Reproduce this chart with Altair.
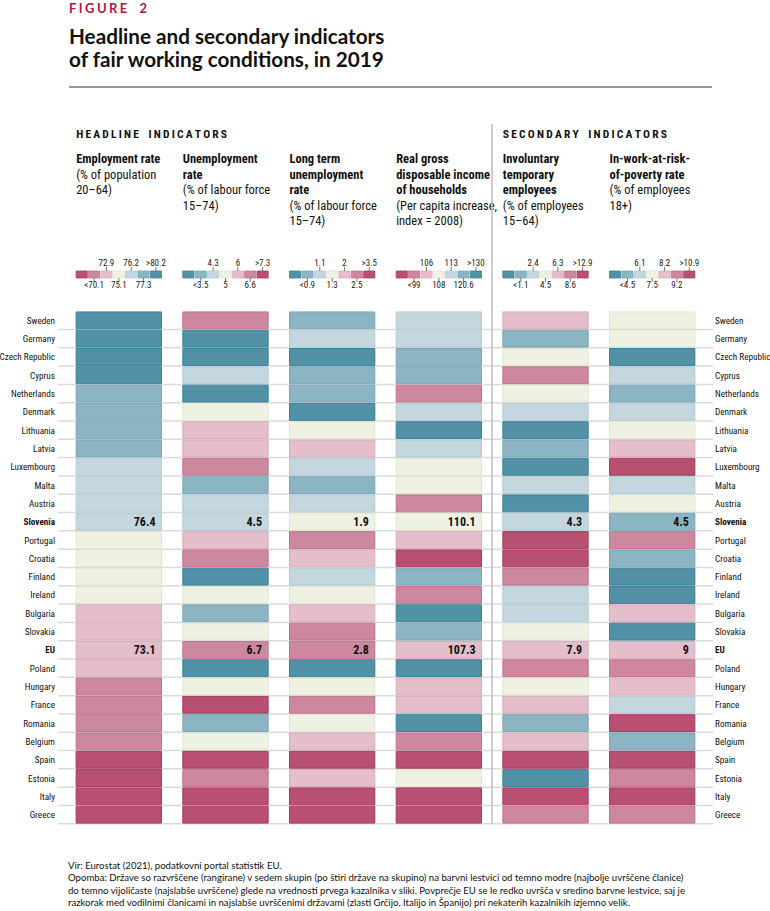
import altair as alt
import pandas as pd

# ---------------- data ----------------
countries = ["Sweden", "Germany", "Czech Republic", "Cyprus", "Netherlands", "Denmark",
             "Lithuania", "Latvia", "Luxembourg", "Malta", "Austria", "Slovenia",
             "Portugal", "Croatia", "Finland", "Ireland", "Bulgaria", "Slovakia", "EU",
             "Poland", "Hungary", "France", "Romania", "Belgium", "Spain", "Estonia",
             "Italy", "Greece"]
bold_rows = ["Slovenia", "EU"]

indicators = ["emp", "unemp", "ltu", "gdhi", "invtemp", "iwp"]
higher_better = ["emp", "gdhi"]

# class 1 = dark blue (best) ... 7 = dark magenta (worst)
cls_emp = [1, 1, 1, 1, 2, 2, 2, 2, 3, 3, 3, 3, 4, 4, 4, 4, 5, 5, 5, 5, 6, 6, 6, 6, 7, 7, 7, 7]
cls_unemp = [6, 1, 1, 3, 1, 4, 5, 5, 6, 2, 3, 3, 5, 6, 1, 4, 2, 4, 6, 1, 4, 7, 2, 4, 7, 6, 7, 7]
cls_ltu = [2, 3, 1, 2, 2, 1, 4, 5, 3, 2, 3, 4, 6, 5, 3, 4, 5, 6, 6, 1, 4, 6, 4, 5, 7, 5, 7, 7]
cls_gdhi = [3, 3, 2, 2, 6, 3, 1, 3, 4, 4, 6, 4, 5, 7, 2, 6, 1, 2, 5, 1, 5, 5, 1, 6, 7, 4, 7, 7]
cls_invtemp = [5, 2, 4, 6, 4, 3, 1, 2, 1, 3, 1, 3, 7, 7, 6, 3, 3, 4, 5, 6, 4, 5, 2, 5, 7, 1, 7, 6]
cls_iwp = [4, 4, 1, 3, 2, 3, 4, 5, 7, 3, 4, 2, 6, 2, 1, 1, 5, 1, 5, 6, 5, 3, 7, 2, 7, 6, 7, 6]
classes = [cls_emp, cls_unemp, cls_ltu, cls_gdhi, cls_invtemp, cls_iwp]

slovenia_vals = ["76.4", "4.5", "1.9", "110.1", "4.3", "4.5"]
eu_vals = ["73.1", "6.7", "2.8", "107.3", "7.9", "9"]

leg_above = [["72.9", "76.2", ">80.2"], ["4.3", "6", ">7.3"], ["1.1", "2", ">3.5"],
             ["106", "113", ">130"], ["2.4", "6.3", ">12.9"], ["6.1", "8.2", ">10.9"]]
leg_below = [["<70.1", "75.1", "77.3"], ["<3.5", "5", "6.6"], ["<0.9", "1.3", "2.5"],
             ["<99", "108", "120.6"], ["<1.1", "4.5", "8.6"], ["<4.5", "7.5", "9.2"]]

header_bold = [["Employment rate"], ["Unemployment", "rate"],
               ["Long term", "unemployment", "rate"],
               ["Real gross", "disposable income", "of households"],
               ["Involuntary", "temporary", "employees"],
               ["In-work-at-risk-", "of-poverty rate"]]
header_norm = [["(% of population", "20–64)"], ["(% of labour force", "15–74)"],
               ["(% of labour force", "15–74)"], ["(Per capita increase,", "index = 2008)"],
               ["(% of employees", "15–64)"], ["(% of employees", "18+)"]]

group_titles = ["HEADLINE INDICATORS", "SECONDARY INDICATORS"]
group_start = ["emp", "invtemp"]

fig_label = "FIGURE 2"
title_lines = ["Headline and secondary indicators", "of fair working conditions, in 2019"]
footer_lines = [
    "Vir: Eurostat (2021), podatkovni portal statistik EU.",
    "Opomba: Države so razvrščene (rangirane) v sedem skupin (po štiri države na skupino) na barvni lestvici od temno modre (najbolje uvrščene članice)",
    "do temno vijoličaste (najslabše uvrščene) glede na vrednosti prvega kazalnika v sliki. Povprečje EU se le redko uvršča v sredino barvne lestvice, saj je",
    "razkorak med vodilnimi članicami in najslabše uvrščenimi državami (zlasti Grčijo, Italijo in Španijo) pri nekaterih kazalnikih izjemno velik.",
]

palette = ["#5392a6", "#8bb5c3", "#c4d7de", "#eff1e3", "#e4bfcb", "#cd879e", "#b85072"]
edges = ["#3a8099", "#79a7b7", "#b4cbd3", "#e2e5d3", "#d9acbb", "#c07290", "#a73a62"]


def spaced(s, sep="\u2009", word="\u2002"):
    # letter-spaced caps (Vega-Lite text marks have no letterSpacing)
    return sep.join(s.replace(" ", word))


# ---------------- tables ----------------
cells = pd.DataFrame([
    {"ind": ind, "country": c, "cls": classes[i][j]}
    for i, ind in enumerate(indicators) for j, c in enumerate(countries)
])
vals = pd.DataFrame(
    [{"ind": ind, "country": "Slovenia", "v": slovenia_vals[i]} for i, ind in enumerate(indicators)]
    + [{"ind": ind, "country": "EU", "v": eu_vals[i]} for i, ind in enumerate(indicators)]
)
ctry = pd.DataFrame({"country": countries,
                     "b": [c in bold_rows for c in countries]})
swatches = pd.DataFrame([
    {"ind": ind, "k": k, "cls": (7 - k) if ind in higher_better else (k + 1)}
    for ind in indicators for k in range(7)
])
leg_lab = pd.DataFrame(
    [{"ind": ind, "k": 2 * (n + 1), "t": t, "pos": "a"}
     for i, ind in enumerate(indicators) for n, t in enumerate(leg_above[i])]
    + [{"ind": ind, "k": 2 * n + 1, "t": t, "pos": "b"}
       for i, ind in enumerate(indicators) for n, t in enumerate(leg_below[i])]
)
hdr_rows = []
for i, ind in enumerate(indicators):
    lines = [(t, True) for t in header_bold[i]] + [(t, False) for t in header_norm[i]]
    for li, (t, b) in enumerate(lines):
        hdr_rows.append({"ind": ind, "li": li, "t": t, "b": b})
hdr = pd.DataFrame(hdr_rows)
groups = pd.DataFrame({"ind": group_start, "t": [spaced(t) for t in group_titles]})
one = pd.DataFrame({"a": [0]})

# ---------------- layout ----------------
W, H = 655, 513
FONT = "Roboto Condensed, DejaVu Sans Condensed, sans-serif"
TFONT = "Lato, Open Sans, sans-serif"

xscale = alt.Scale(domain=indicators, paddingInner=0.2, paddingOuter=0.17)
yscale = alt.Scale(domain=countries, paddingInner=0.08, paddingOuter=0.05)
cscale = alt.Scale(domain=[1, 2, 3, 4, 5, 6, 7], range=palette)
sscale = alt.Scale(domain=[1, 2, 3, 4, 5, 6, 7], range=edges)
offscale = alt.Scale(paddingInner=0.1)


def X(bp=None):
    if bp is None:
        return alt.X("ind:N", scale=xscale, axis=None)
    return alt.X("ind:N", scale=xscale, axis=None, bandPosition=bp)


Y = alt.Y("country:N", scale=yscale, axis=None)

layers = []

# row separator lines
layers.append(
    alt.Chart(ctry).mark_rule(color="#dadada", strokeWidth=1.5, yOffset=0.7).encode(
        y=alt.Y("country:N", scale=yscale, axis=None, bandPosition=1),
        x=alt.value(0), x2=alt.value(W))
)
# heat cells
layers.append(
    alt.Chart(cells).mark_rect(strokeWidth=1).encode(
        x=X(), y=Y,
        color=alt.Color("cls:O", scale=cscale, legend=None),
        stroke=alt.Stroke("cls:O", scale=sscale, legend=None))
)
# values for Slovenia and EU
layers.append(
    alt.Chart(vals).mark_text(align="right", baseline="middle", dx=-6, dy=0.5, font=FONT,
                              fontSize=12, fontWeight="bold", color="#111").encode(
        x=X(1), y=Y, text="v:N")
)
# country labels both sides
for b in (True, False):
    sub = ctry[ctry["b"] == b]
    for side in ("l", "r"):
        layers.append(
            alt.Chart(sub).mark_text(
                align="right" if side == "l" else "left", baseline="middle", dy=0.5,
                font=FONT, fontSize=9.2, fontWeight="bold" if b else "normal",
                color="#111").encode(
                x=alt.value(-3 if side == "l" else W + 2), y=Y, text="country:N")
        )
# column headers
for li in range(5):
    for b in (True, False):
        sub = hdr[(hdr["li"] == li) & (hdr["b"] == b)]
        if len(sub) == 0:
            continue
        layers.append(
            alt.Chart(sub).mark_text(align="left", baseline="alphabetic", font=FONT,
                                     fontSize=12.5, fontWeight="bold" if b else "normal",
                                     color="#111").encode(
                x=X(0), y=alt.value(-148 + 15.6 * li), text="t:N")
        )
# group titles
layers.append(
    alt.Chart(groups).mark_text(align="left", baseline="alphabetic", font=FONT, fontSize=11.5,
                                fontWeight="bold", color="#111").encode(
        x=X(0), y=alt.value(-173), text="t:N")
)
# legends
layers.append(
    alt.Chart(swatches).mark_rect(strokeWidth=0.8).encode(
        x=X(0), xOffset=alt.XOffset("k:O", scale=offscale),
        y=alt.value(-40), y2=alt.value(-33),
        color=alt.Color("cls:O", scale=cscale, legend=None),
        stroke=alt.Stroke("cls:O", scale=sscale, legend=None))
)
for pos, y0, y1, ty in (("a", -44, -40, -45), ("b", -33, -29, -23)):
    sub = leg_lab[leg_lab["pos"] == pos]
    layers.append(
        alt.Chart(sub).mark_rule(color="#444", strokeWidth=0.7).encode(
            x=X(0), xOffset=alt.XOffset("k:O", scale=offscale),
            y=alt.value(y0), y2=alt.value(y1))
    )
    layers.append(
        alt.Chart(sub).mark_text(align="center", baseline="alphabetic", font=FONT,
                                 fontSize=9, color="#222").encode(
            x=X(0), xOffset=alt.XOffset("k:O", scale=offscale),
            y=alt.value(ty), text="t:N")
    )
# divider between headline and secondary
layers.append(
    alt.Chart(one).mark_rule(color="#bdbdbd", strokeWidth=1.5).encode(
        x=alt.value(434), y=alt.value(-187), y2=alt.value(H))
)
# title block
layers.append(
    alt.Chart(one).mark_rule(color="#333", strokeWidth=1).encode(
        x=alt.value(11), x2=alt.value(654), y=alt.value(-224))
)
layers.append(
    alt.Chart(one).mark_text(align="left", baseline="alphabetic", font=TFONT, fontSize=13,
                             fontWeight="bold", color="#b0173f",
                             text=spaced(fig_label, "\u2009\u200a", " \u2009")).encode(
        x=alt.value(11), y=alt.value(-298.5))
)
for i, t in enumerate(title_lines):
    layers.append(
        alt.Chart(one).mark_text(align="left", baseline="alphabetic", font=TFONT,
                                 fontSize=20.7, fontWeight="bold", color="#111",
                                 text=t).encode(
            x=alt.value(11), y=alt.value(-267 + 23 * i))
    )
for i, t in enumerate(footer_lines):
    layers.append(
        alt.Chart(one).mark_text(align="left", baseline="alphabetic", font=TFONT,
                                 fontSize=9.6, color="#111", text=t).encode(
            x=alt.value(10), y=alt.value(H + 45 + 12.4 * i))
    )

chart = alt.layer(*layers).properties(
    width=W, height=H,
    padding={"left": 58, "top": 311, "right": 57, "bottom": 87},
    autosize=alt.AutoSizeParams(type="none"),
    background="white",
).configure_view(stroke=None)

chart.save("out.html", embed_options={"renderer": "svg", "actions": False})
